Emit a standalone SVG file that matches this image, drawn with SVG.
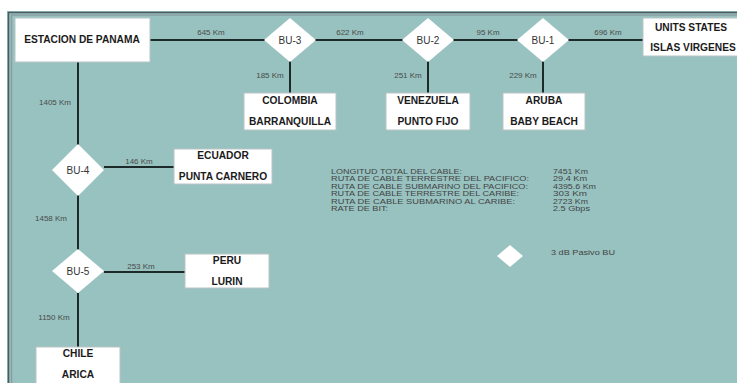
<svg xmlns="http://www.w3.org/2000/svg" width="737" height="383" viewBox="0 0 737 383">
<style>
.box{fill:#ffffff;stroke:#b9c4c3;stroke-width:1}
.bu{fill:#ffffff}
.bt{font-family:"Liberation Sans",Arial,sans-serif;font-weight:bold;font-size:10.2px;fill:#1a1a1a;text-anchor:middle}
.bul{font-family:"Liberation Sans",Arial,sans-serif;font-size:10px;fill:#333;text-anchor:middle}
.km{font-family:"Liberation Sans",Arial,sans-serif;font-size:8px;fill:#4a4a4a;text-anchor:middle}
.info{font-family:"Liberation Sans",Arial,sans-serif;font-size:7.2px;fill:#444}
.ln{stroke:#1e2a2a;stroke-width:2;fill:none}
</style>
<rect x="0" y="0" width="737" height="383" fill="#ffffff"/>
<rect x="7" y="11" width="730" height="372" fill="#97c2c0"/>
<path d="M8.5 383 V12.5 H737" fill="none" stroke="#4d5a60" stroke-width="1.5"/>
<path d="M11.5 383 V15 H737" fill="none" stroke="#8a9ea2" stroke-width="1.5"/>
<g id="connectors">
<line class="ln" x1="150" y1="40" x2="266" y2="40"/>
<line class="ln" x1="314" y1="40" x2="404" y2="40"/>
<line class="ln" x1="453" y1="40" x2="520" y2="40"/>
<line class="ln" x1="568" y1="40" x2="643" y2="40"/>
<line class="ln" x1="290" y1="60" x2="290" y2="93"/>
<line class="ln" x1="428" y1="60" x2="428" y2="93"/>
<line class="ln" x1="543" y1="60" x2="543" y2="93"/>
<line class="ln" x1="78" y1="62" x2="78" y2="146"/>
<line class="ln" x1="104" y1="167" x2="174" y2="167"/>
<line class="ln" x1="78" y1="195" x2="78" y2="250"/>
<line class="ln" x1="104" y1="272" x2="185" y2="272"/>
<line class="ln" x1="78" y1="293" x2="78" y2="348"/>
<text class="km" x="211" y="35">645 Km</text>
<text class="km" x="350" y="35">622 Km</text>
<text class="km" x="488" y="35">95 Km</text>
<text class="km" x="608" y="35">696 Km</text>
<text class="km" x="270" y="78">185 Km</text>
<text class="km" x="408" y="78">251 Km</text>
<text class="km" x="523" y="78">229 Km</text>
<text class="km" x="55" y="105">1405 Km</text>
<text class="km" x="139" y="164">146 Km</text>
<text class="km" x="51" y="221">1458 Km</text>
<text class="km" x="141" y="269">253 Km</text>
<text class="km" x="54" y="320">1150 Km</text>
</g>
<g id="panama">
<rect class="box" x="15" y="18" width="135" height="44"/>
<text class="bt" x="82" y="43">ESTACION DE PANAMA</text>
</g>
<g id="bu3">
<polygon class="bu" points="290,18 316,40 290,62 264,40"/>
<text class="bul" x="290" y="44">BU-3</text>
</g>
<g id="bu2">
<polygon class="bu" points="428,18 454,40 428,62 402,40"/>
<text class="bul" x="428" y="44">BU-2</text>
</g>
<g id="bu1">
<polygon class="bu" points="543,18 569,40 543,62 517,40"/>
<text class="bul" x="543" y="44">BU-1</text>
</g>
<g id="usa">
<rect class="box" x="643" y="18" width="96" height="38"/>
<text class="bt" x="691" y="31">UNITS STATES</text>
<text class="bt" x="693" y="51">ISLAS VIRGENES</text>
</g>
<g id="colombia">
<rect class="box" x="244" y="93" width="92" height="37"/>
<text class="bt" x="290" y="104">COLOMBIA</text>
<text class="bt" x="290" y="125">BARRANQUILLA</text>
</g>
<g id="venezuela">
<rect class="box" x="386" y="93" width="84" height="37"/>
<text class="bt" x="428" y="104">VENEZUELA</text>
<text class="bt" x="428" y="125">PUNTO FIJO</text>
</g>
<g id="aruba">
<rect class="box" x="503" y="93" width="82" height="37"/>
<text class="bt" x="544" y="104">ARUBA</text>
<text class="bt" x="544" y="125">BABY BEACH</text>
</g>
<g id="bu4">
<polygon class="bu" points="78,144 104,170 78,196 52,170"/>
<text class="bul" x="78" y="174">BU-4</text>
</g>
<g id="ecuador">
<rect class="box" x="174" y="149" width="98" height="35"/>
<text class="bt" x="223" y="159">ECUADOR</text>
<text class="bt" x="223" y="180">PUNTA CARNERO</text>
</g>
<g id="bu5">
<polygon class="bu" points="78,249 104,271 78,293 52,271"/>
<text class="bul" x="78" y="275">BU-5</text>
</g>
<g id="peru">
<rect class="box" x="185" y="254" width="84" height="34"/>
<text class="bt" x="227" y="264">PERU</text>
<text class="bt" x="227" y="285">LURIN</text>
</g>
<g id="chile">
<rect class="box" x="36" y="347" width="84" height="40"/>
<text class="bt" x="78" y="357">CHILE</text>
<text class="bt" x="78" y="378">ARICA</text>
</g>
<g id="info">
<text class="info" x="331" y="173.5" textLength="131" lengthAdjust="spacingAndGlyphs">LONGITUD TOTAL DEL CABLE:</text>
<text class="info" x="331" y="181" textLength="198" lengthAdjust="spacingAndGlyphs">RUTA DE CABLE TERRESTRE DEL PACIFICO:</text>
<text class="info" x="331" y="188.5" textLength="197" lengthAdjust="spacingAndGlyphs">RUTA DE CABLE SUBMARINO DEL PACIFICO:</text>
<text class="info" x="331" y="196" textLength="188" lengthAdjust="spacingAndGlyphs">RUTA DE CABLE TERRESTRE DEL CARIBE:</text>
<text class="info" x="331" y="203.5" textLength="184" lengthAdjust="spacingAndGlyphs">RUTA DE CABLE SUBMARINO AL CARIBE:</text>
<text class="info" x="331" y="211" textLength="57" lengthAdjust="spacingAndGlyphs">RATE DE BIT:</text>
<text class="info" x="553" y="173.5" textLength="35" lengthAdjust="spacingAndGlyphs">7451 Km</text>
<text class="info" x="553" y="181" textLength="34" lengthAdjust="spacingAndGlyphs">29.4 Km</text>
<text class="info" x="553" y="188.5" textLength="43" lengthAdjust="spacingAndGlyphs">4395.6 Km</text>
<text class="info" x="553" y="196" textLength="34" lengthAdjust="spacingAndGlyphs">303 Km</text>
<text class="info" x="553" y="203.5" textLength="35" lengthAdjust="spacingAndGlyphs">2723 Km</text>
<text class="info" x="553" y="211" textLength="37" lengthAdjust="spacingAndGlyphs">2.5 Gbps</text>
</g>
<g id="legend">
<polygon class="bu" points="510,245 523,256 510,267 497,256"/>
<text class="info" x="551" y="255" textLength="64" lengthAdjust="spacingAndGlyphs">3 dB Pasivo BU</text>
</g>
</svg>
